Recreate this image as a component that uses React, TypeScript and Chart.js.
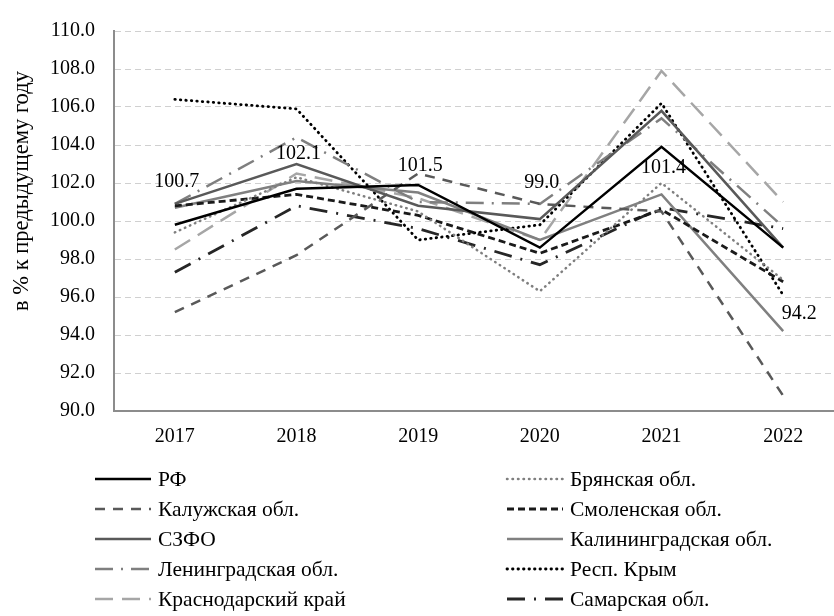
import React, { useEffect, useRef } from "react";
import { Chart, registerables } from "chart.js";

Chart.register(...registerables);

const years = ["2017", "2018", "2019", "2020", "2021", "2022"];
const seriesNames = [
  "РФ",
  "Брянская обл.",
  "Калужская обл.",
  "Смоленская обл.",
  "СЗФО",
  "Калининградская обл.",
  "Ленинградская обл.",
  "Респ. Крым",
  "Краснодарский край",
  "Самарская обл.",
];
const rf = [99.8, 101.7, 101.9, 98.6, 103.9, 98.6];
const bryansk = [99.4, 102.3, 100.5, 96.3, 102.0, 96.9];
const kaluga = [95.2, 98.2, 102.5, 100.9, 100.5, 90.8];
const smolensk = [100.8, 101.4, 100.3, 98.3, 100.6, 96.8];
const szfo = [100.9, 103.0, 100.8, 100.1, 105.8, 98.6];
const kaliningrad = [100.7, 102.1, 101.5, 99.0, 101.4, 94.2];
const leningrad = [100.9, 104.4, 101.0, 100.9, 105.4, 99.7];
const crimea = [106.4, 105.9, 99.0, 99.8, 106.2, 96.1];
const krasnodar = [98.5, 102.5, 101.2, 99.0, 107.9, 101.0];
const samara = [97.3, 100.8, 99.6, 97.7, 100.7, 99.6];
const yTicks = [90, 92, 94, 96, 98, 100, 102, 104, 106, 108, 110];
const yTitle = "в % к предыдущему году";

const FONT = '"Liberation Serif", "Times New Roman", serif';

const styles = [
  { color: "#000000", dash: [], width: 2.5, cap: "butt" },
  { color: "#7f7f7f", dash: [0.5, 5], width: 2.5, cap: "round" },
  { color: "#595959", dash: [10, 8], width: 2.5, cap: "butt" },
  { color: "#1a1a1a", dash: [7, 4], width: 2.8, cap: "butt" },
  { color: "#595959", dash: [], width: 2.5, cap: "butt" },
  { color: "#808080", dash: [], width: 2.5, cap: "butt" },
  { color: "#7f7f7f", dash: [18, 8, 2, 8], width: 2.5, cap: "butt" },
  { color: "#000000", dash: [0.5, 5], width: 2.8, cap: "round" },
  { color: "#a6a6a6", dash: [18, 9], width: 2.5, cap: "butt" },
  { color: "#262626", dash: [18, 9, 2, 9], width: 2.8, cap: "butt" },
];

const allSeries = [rf, bryansk, kaluga, smolensk, szfo, kaliningrad, leningrad, crimea, krasnodar, samara];
const labelSeries = 5;
const labelOffsets = [
  [2, -26],
  [2, -27],
  [2, -27],
  [2, -57],
  [2, -27],
  [16, -17],
];

const customPlugin = {
  id: "customDraw",
  afterDraw(chart: any) {
    const ctx = chart.ctx;
    // y title
    ctx.save();
    ctx.translate(22, 191);
    ctx.rotate(-Math.PI / 2);
    ctx.textAlign = "center";
    ctx.textBaseline = "middle";
    ctx.font = `22.5px ${FONT}`;
    ctx.fillStyle = "#000";
    ctx.fillText(yTitle, 0, 0);
    ctx.restore();

    // data labels
    const meta = chart.getDatasetMeta(labelSeries);
    ctx.save();
    ctx.font = `20px ${FONT}`;
    ctx.fillStyle = "#000";
    ctx.textAlign = "center";
    ctx.textBaseline = "middle";
    meta.data.forEach((pt: any, i: number) => {
      const v = allSeries[labelSeries][i];
      ctx.fillText(v.toFixed(1), pt.x + labelOffsets[i][0], pt.y + labelOffsets[i][1]);
    });
    ctx.restore();

    // legend
    const colX = [95, 507];
    const sampleW = 56;
    const rowY0 = 479;
    const rowH = 30;
    chart.data.datasets.forEach((ds: any, i: number) => {
      const col = i % 2;
      const row = Math.floor(i / 2);
      const x = colX[col];
      const y = rowY0 + row * rowH;
      const st = styles[i];
      ctx.save();
      ctx.strokeStyle = st.color;
      ctx.lineWidth = st.width;
      ctx.lineCap = st.cap;
      ctx.setLineDash(st.dash);
      ctx.beginPath();
      ctx.moveTo(x, y);
      ctx.lineTo(x + sampleW, y);
      ctx.stroke();
      ctx.restore();
      ctx.save();
      ctx.font = `21.5px ${FONT}`;
      ctx.fillStyle = "#000";
      ctx.textAlign = "left";
      ctx.textBaseline = "middle";
      ctx.fillText(ds.label, x + sampleW + 7, y + 1);
      ctx.restore();
    });
  },
};

export default function App() {
  const ref = useRef<HTMLCanvasElement | null>(null);
  useEffect(() => {
    if (!ref.current) return;
    const chart = new Chart(ref.current, {
      type: "line",
      data: {
        labels: years,
        datasets: allSeries.map((d, i) => ({
          label: seriesNames[i],
          data: d,
          borderColor: styles[i].color,
          backgroundColor: styles[i].color,
          borderWidth: styles[i].width,
          borderDash: styles[i].dash,
          borderCapStyle: styles[i].cap as any,
          pointRadius: 0,
          tension: 0,
          fill: false,
        })),
      },
      options: {
        animation: false,
        responsive: false,
        devicePixelRatio: 1,
        layout: { padding: { left: 0, top: 21, right: 6, bottom: 0 } },
        plugins: {
          legend: { display: false },
          tooltip: { enabled: false },
          title: { display: false },
        },
        scales: {
          x: {
            type: "category",
            offset: true,
            grid: { display: false, drawTicks: false },
            border: { display: true, color: "#8c8c8c", width: 2 },
            ticks: { color: "#000", font: { family: FONT, size: 20 }, padding: 14, maxRotation: 0 },
            afterFit: (s: any) => {
              s.height = 205;
            },
          },
          y: {
            min: 90,
            max: 110,
            afterBuildTicks: (s: any) => {
              s.ticks = yTicks.map((v) => ({ value: v }));
            },
            grid: { color: "#d0d0d0", lineWidth: 1, drawTicks: false },
            border: { display: true, color: "#8c8c8c", width: 2, dash: [6, 4] },
            ticks: {
              color: "#000",
              font: { family: FONT, size: 20 },
              padding: 19,
              callback: (v: any) => Number(v).toFixed(1),
            },
            afterFit: (s: any) => {
              s.width = 114;
            },
          },
        },
      },
      plugins: [customPlugin],
    } as any);
    return () => chart.destroy();
  }, []);
  return (
    <div style={{ position: "absolute", left: 0, top: 0, width: 834, height: 616, overflow: "hidden", background: "#fff" }}>
      <canvas ref={ref} width={850} height={616} style={{ width: 850, height: 616, display: "block" }} />
    </div>
  );
}
